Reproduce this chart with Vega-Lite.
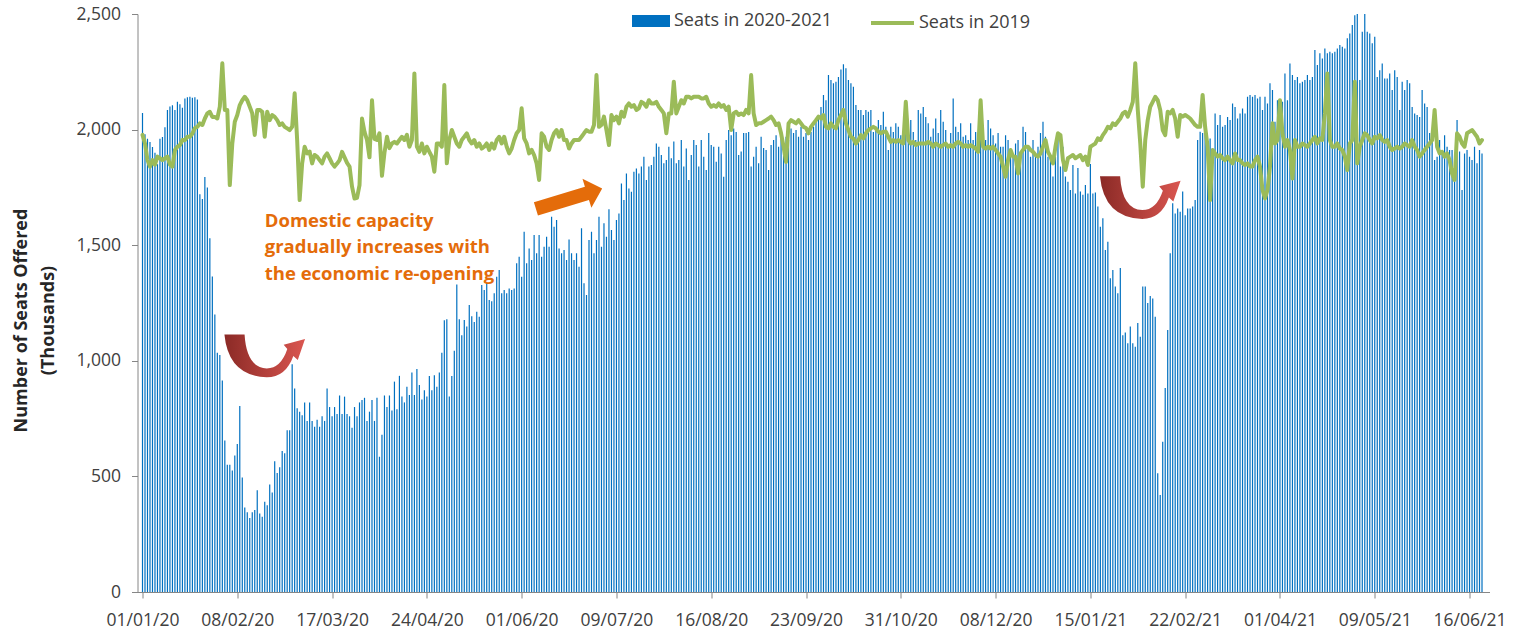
{
"$schema": "https://vega.github.io/schema/vega-lite/v6.json",
"width": 1352,
"height": 578,
"autosize": {"type": "none"},
"padding": {"left": 137.5, "top": 14, "right": 32.5, "bottom": 37},
"background": "white",
"config": {
  "view": {"stroke": null},
  "font": "Open Sans",
  "axis": {"grid": false, "domainColor": "#868686", "tickColor": "#868686", "tickSize": 6, "labelFont": "Open Sans", "labelFontSize": 17.5, "labelColor": "#404040"}
},
"datasets": {
"seats": [
{"date":"2020-01-01","seats":2072,"seats2019":1977},
{"date":"2020-01-02","seats":1980,"seats2019":1940},
{"date":"2020-01-03","seats":1960,"seats2019":1868},
{"date":"2020-01-04","seats":1946,"seats2019":1840},
{"date":"2020-01-05","seats":1925,"seats2019":1868},
{"date":"2020-01-06","seats":1900,"seats2019":1848},
{"date":"2020-01-07","seats":1850,"seats2019":1883},
{"date":"2020-01-08","seats":1960,"seats2019":1876},
{"date":"2020-01-09","seats":1968,"seats2019":1868},
{"date":"2020-01-10","seats":2010,"seats2019":1876},
{"date":"2020-01-11","seats":2085,"seats2019":1883},
{"date":"2020-01-12","seats":2100,"seats2019":1848},
{"date":"2020-01-13","seats":2105,"seats2019":1840},
{"date":"2020-01-14","seats":2085,"seats2019":1912},
{"date":"2020-01-15","seats":2120,"seats2019":1926},
{"date":"2020-01-16","seats":2110,"seats2019":1933},
{"date":"2020-01-17","seats":2095,"seats2019":1955},
{"date":"2020-01-18","seats":2135,"seats2019":1955},
{"date":"2020-01-19","seats":2140,"seats2019":1969},
{"date":"2020-01-20","seats":2142,"seats2019":1969},
{"date":"2020-01-21","seats":2138,"seats2019":1983},
{"date":"2020-01-22","seats":2140,"seats2019":2007},
{"date":"2020-01-23","seats":2130,"seats2019":2012},
{"date":"2020-01-24","seats":1720,"seats2019":2027},
{"date":"2020-01-25","seats":1700,"seats2019":2020},
{"date":"2020-01-26","seats":1795,"seats2019":2048},
{"date":"2020-01-27","seats":1750,"seats2019":2070},
{"date":"2020-01-28","seats":1530,"seats2019":2077},
{"date":"2020-01-29","seats":1365,"seats2019":2055},
{"date":"2020-01-30","seats":1200,"seats2019":2055},
{"date":"2020-01-31","seats":1035,"seats2019":2048},
{"date":"2020-02-01","seats":1025,"seats2019":2099},
{"date":"2020-02-02","seats":915,"seats2019":2287},
{"date":"2020-02-03","seats":655,"seats2019":2085},
{"date":"2020-02-04","seats":550,"seats2019":2085},
{"date":"2020-02-05","seats":550,"seats2019":1760},
{"date":"2020-02-06","seats":525,"seats2019":1940},
{"date":"2020-02-07","seats":590,"seats2019":2034},
{"date":"2020-02-08","seats":640,"seats2019":2063},
{"date":"2020-02-09","seats":805,"seats2019":2106},
{"date":"2020-02-10","seats":495,"seats2019":2127},
{"date":"2020-02-11","seats":365,"seats2019":2142},
{"date":"2020-02-12","seats":345,"seats2019":2127},
{"date":"2020-02-13","seats":320,"seats2019":2099},
{"date":"2020-02-14","seats":345,"seats2019":2070},
{"date":"2020-02-15","seats":355,"seats2019":1977},
{"date":"2020-02-16","seats":440,"seats2019":2085},
{"date":"2020-02-17","seats":340,"seats2019":2085},
{"date":"2020-02-18","seats":325,"seats2019":2077},
{"date":"2020-02-19","seats":390,"seats2019":1969},
{"date":"2020-02-20","seats":375,"seats2019":2077},
{"date":"2020-02-21","seats":465,"seats2019":2041},
{"date":"2020-02-22","seats":430,"seats2019":2063},
{"date":"2020-02-23","seats":565,"seats2019":2055},
{"date":"2020-02-24","seats":515,"seats2019":2041},
{"date":"2020-02-25","seats":540,"seats2019":2020},
{"date":"2020-02-26","seats":610,"seats2019":2027},
{"date":"2020-02-27","seats":600,"seats2019":2012},
{"date":"2020-02-28","seats":700,"seats2019":2005},
{"date":"2020-02-29","seats":700,"seats2019":1998},
{"date":"2020-03-01","seats":985,"seats2019":2012},
{"date":"2020-03-02","seats":880,"seats2019":2157},
{"date":"2020-03-03","seats":795,"seats2019":1955},
{"date":"2020-03-04","seats":780,"seats2019":1695},
{"date":"2020-03-05","seats":765,"seats2019":1854},
{"date":"2020-03-06","seats":820,"seats2019":1926},
{"date":"2020-03-07","seats":740,"seats2019":1897},
{"date":"2020-03-08","seats":820,"seats2019":1905},
{"date":"2020-03-09","seats":740,"seats2019":1854},
{"date":"2020-03-10","seats":715,"seats2019":1890},
{"date":"2020-03-11","seats":745,"seats2019":1883},
{"date":"2020-03-12","seats":715,"seats2019":1868},
{"date":"2020-03-13","seats":760,"seats2019":1854},
{"date":"2020-03-14","seats":740,"seats2019":1883},
{"date":"2020-03-15","seats":880,"seats2019":1897},
{"date":"2020-03-16","seats":800,"seats2019":1876},
{"date":"2020-03-17","seats":760,"seats2019":1854},
{"date":"2020-03-18","seats":800,"seats2019":1840},
{"date":"2020-03-19","seats":770,"seats2019":1853},
{"date":"2020-03-20","seats":850,"seats2019":1868},
{"date":"2020-03-21","seats":770,"seats2019":1904},
{"date":"2020-03-22","seats":845,"seats2019":1880},
{"date":"2020-03-23","seats":770,"seats2019":1856},
{"date":"2020-03-24","seats":760,"seats2019":1840},
{"date":"2020-03-25","seats":710,"seats2019":1753},
{"date":"2020-03-26","seats":800,"seats2019":1702},
{"date":"2020-03-27","seats":760,"seats2019":1705},
{"date":"2020-03-28","seats":820,"seats2019":1760},
{"date":"2020-03-29","seats":830,"seats2019":2048},
{"date":"2020-03-30","seats":840,"seats2019":1990},
{"date":"2020-03-31","seats":740,"seats2019":1955},
{"date":"2020-04-01","seats":780,"seats2019":1880},
{"date":"2020-04-02","seats":830,"seats2019":2127},
{"date":"2020-04-03","seats":740,"seats2019":1960},
{"date":"2020-04-04","seats":840,"seats2019":1955},
{"date":"2020-04-05","seats":585,"seats2019":1984},
{"date":"2020-04-06","seats":680,"seats2019":1800},
{"date":"2020-04-07","seats":850,"seats2019":1900},
{"date":"2020-04-08","seats":800,"seats2019":1969},
{"date":"2020-04-09","seats":850,"seats2019":1920},
{"date":"2020-04-10","seats":785,"seats2019":1940},
{"date":"2020-04-11","seats":910,"seats2019":1947},
{"date":"2020-04-12","seats":790,"seats2019":1940},
{"date":"2020-04-13","seats":935,"seats2019":1955},
{"date":"2020-04-14","seats":846,"seats2019":1969},
{"date":"2020-04-15","seats":820,"seats2019":1955},
{"date":"2020-04-16","seats":888,"seats2019":1977},
{"date":"2020-04-17","seats":852,"seats2019":1926},
{"date":"2020-04-18","seats":949,"seats2019":1955},
{"date":"2020-04-19","seats":852,"seats2019":2243},
{"date":"2020-04-20","seats":964,"seats2019":1926},
{"date":"2020-04-21","seats":895,"seats2019":1904},
{"date":"2020-04-22","seats":833,"seats2019":1940},
{"date":"2020-04-23","seats":873,"seats2019":1897},
{"date":"2020-04-24","seats":846,"seats2019":1926},
{"date":"2020-04-25","seats":934,"seats2019":1904},
{"date":"2020-04-26","seats":873,"seats2019":1883},
{"date":"2020-04-27","seats":937,"seats2019":1818},
{"date":"2020-04-28","seats":888,"seats2019":1940},
{"date":"2020-04-29","seats":949,"seats2019":1940},
{"date":"2020-04-30","seats":1035,"seats2019":1926},
{"date":"2020-05-01","seats":1175,"seats2019":2193},
{"date":"2020-05-02","seats":1180,"seats2019":1854},
{"date":"2020-05-03","seats":846,"seats2019":1955},
{"date":"2020-05-04","seats":934,"seats2019":1998},
{"date":"2020-05-05","seats":1044,"seats2019":1969},
{"date":"2020-05-06","seats":1330,"seats2019":1940},
{"date":"2020-05-07","seats":1180,"seats2019":1926},
{"date":"2020-05-08","seats":1111,"seats2019":1955},
{"date":"2020-05-09","seats":1176,"seats2019":1969},
{"date":"2020-05-10","seats":1148,"seats2019":1984},
{"date":"2020-05-11","seats":1241,"seats2019":1955},
{"date":"2020-05-12","seats":1193,"seats2019":1940},
{"date":"2020-05-13","seats":1168,"seats2019":1955},
{"date":"2020-05-14","seats":1212,"seats2019":1926},
{"date":"2020-05-15","seats":1190,"seats2019":1940},
{"date":"2020-05-16","seats":1328,"seats2019":1918},
{"date":"2020-05-17","seats":1306,"seats2019":1926},
{"date":"2020-05-18","seats":1335,"seats2019":1940},
{"date":"2020-05-19","seats":1263,"seats2019":1912},
{"date":"2020-05-20","seats":1258,"seats2019":1940},
{"date":"2020-05-21","seats":1292,"seats2019":1918},
{"date":"2020-05-22","seats":1364,"seats2019":1955},
{"date":"2020-05-23","seats":1393,"seats2019":1969},
{"date":"2020-05-24","seats":1292,"seats2019":1940},
{"date":"2020-05-25","seats":1306,"seats2019":1969},
{"date":"2020-05-26","seats":1292,"seats2019":1926},
{"date":"2020-05-27","seats":1313,"seats2019":1897},
{"date":"2020-05-28","seats":1306,"seats2019":1918},
{"date":"2020-05-29","seats":1313,"seats2019":1955},
{"date":"2020-05-30","seats":1422,"seats2019":1984},
{"date":"2020-05-31","seats":1450,"seats2019":1998},
{"date":"2020-06-01","seats":1364,"seats2019":2092},
{"date":"2020-06-02","seats":1558,"seats2019":1962},
{"date":"2020-06-03","seats":1422,"seats2019":1940},
{"date":"2020-06-04","seats":1486,"seats2019":1897},
{"date":"2020-06-05","seats":1436,"seats2019":1912},
{"date":"2020-06-06","seats":1544,"seats2019":1890},
{"date":"2020-06-07","seats":1465,"seats2019":1854},
{"date":"2020-06-08","seats":1544,"seats2019":1782},
{"date":"2020-06-09","seats":1450,"seats2019":1984},
{"date":"2020-06-10","seats":1493,"seats2019":1969},
{"date":"2020-06-11","seats":1537,"seats2019":1926},
{"date":"2020-06-12","seats":1493,"seats2019":1912},
{"date":"2020-06-13","seats":1623,"seats2019":1955},
{"date":"2020-06-14","seats":1580,"seats2019":1984},
{"date":"2020-06-15","seats":1609,"seats2019":1998},
{"date":"2020-06-16","seats":1486,"seats2019":1969},
{"date":"2020-06-17","seats":1465,"seats2019":1998},
{"date":"2020-06-18","seats":1479,"seats2019":1955},
{"date":"2020-06-19","seats":1436,"seats2019":1955},
{"date":"2020-06-20","seats":1525,"seats2019":1918},
{"date":"2020-06-21","seats":1465,"seats2019":1940},
{"date":"2020-06-22","seats":1436,"seats2019":1955},
{"date":"2020-06-23","seats":1465,"seats2019":1955},
{"date":"2020-06-24","seats":1407,"seats2019":1955},
{"date":"2020-06-25","seats":1573,"seats2019":1969},
{"date":"2020-06-26","seats":1335,"seats2019":1984},
{"date":"2020-06-27","seats":1285,"seats2019":1998},
{"date":"2020-06-28","seats":1522,"seats2019":1991},
{"date":"2020-06-29","seats":1558,"seats2019":1991},
{"date":"2020-06-30","seats":1465,"seats2019":2020},
{"date":"2020-07-01","seats":1522,"seats2019":2236},
{"date":"2020-07-02","seats":1623,"seats2019":2012},
{"date":"2020-07-03","seats":1493,"seats2019":2020},
{"date":"2020-07-04","seats":1595,"seats2019":2056},
{"date":"2020-07-05","seats":1537,"seats2019":1998},
{"date":"2020-07-06","seats":1655,"seats2019":1933},
{"date":"2020-07-07","seats":1566,"seats2019":2063},
{"date":"2020-07-08","seats":1522,"seats2019":2041},
{"date":"2020-07-09","seats":1609,"seats2019":2056},
{"date":"2020-07-10","seats":1637,"seats2019":2027},
{"date":"2020-07-11","seats":1767,"seats2019":2077},
{"date":"2020-07-12","seats":1695,"seats2019":2056},
{"date":"2020-07-13","seats":1810,"seats2019":2099},
{"date":"2020-07-14","seats":1745,"seats2019":2113},
{"date":"2020-07-15","seats":1731,"seats2019":2099},
{"date":"2020-07-16","seats":1818,"seats2019":2106},
{"date":"2020-07-17","seats":1832,"seats2019":2085},
{"date":"2020-07-18","seats":1810,"seats2019":2092},
{"date":"2020-07-19","seats":1840,"seats2019":2120},
{"date":"2020-07-20","seats":1883,"seats2019":2113},
{"date":"2020-07-21","seats":1782,"seats2019":2099},
{"date":"2020-07-22","seats":1840,"seats2019":2127},
{"date":"2020-07-23","seats":1847,"seats2019":2113},
{"date":"2020-07-24","seats":1883,"seats2019":2113},
{"date":"2020-07-25","seats":1940,"seats2019":2120},
{"date":"2020-07-26","seats":1926,"seats2019":2099},
{"date":"2020-07-27","seats":1890,"seats2019":2085},
{"date":"2020-07-28","seats":1854,"seats2019":2070},
{"date":"2020-07-29","seats":1868,"seats2019":1984},
{"date":"2020-07-30","seats":1926,"seats2019":2070},
{"date":"2020-07-31","seats":1876,"seats2019":2070},
{"date":"2020-08-01","seats":1948,"seats2019":2207},
{"date":"2020-08-02","seats":1854,"seats2019":2070},
{"date":"2020-08-03","seats":1868,"seats2019":2099},
{"date":"2020-08-04","seats":1955,"seats2019":2127},
{"date":"2020-08-05","seats":1840,"seats2019":2113},
{"date":"2020-08-06","seats":1918,"seats2019":2142},
{"date":"2020-08-07","seats":1782,"seats2019":2142},
{"date":"2020-08-08","seats":1890,"seats2019":2135},
{"date":"2020-08-09","seats":1955,"seats2019":2142},
{"date":"2020-08-10","seats":1933,"seats2019":2142},
{"date":"2020-08-11","seats":1840,"seats2019":2142},
{"date":"2020-08-12","seats":1955,"seats2019":2135},
{"date":"2020-08-13","seats":1883,"seats2019":2135},
{"date":"2020-08-14","seats":1825,"seats2019":2142},
{"date":"2020-08-15","seats":1985,"seats2019":2113},
{"date":"2020-08-16","seats":1933,"seats2019":2099},
{"date":"2020-08-17","seats":1926,"seats2019":2106},
{"date":"2020-08-18","seats":1861,"seats2019":2099},
{"date":"2020-08-19","seats":1926,"seats2019":2113},
{"date":"2020-08-20","seats":1897,"seats2019":2099},
{"date":"2020-08-21","seats":1796,"seats2019":2106},
{"date":"2020-08-22","seats":1955,"seats2019":2085},
{"date":"2020-08-23","seats":1998,"seats2019":2099},
{"date":"2020-08-24","seats":1976,"seats2019":1998},
{"date":"2020-08-25","seats":2005,"seats2019":2070},
{"date":"2020-08-26","seats":1990,"seats2019":2077},
{"date":"2020-08-27","seats":1890,"seats2019":2063},
{"date":"2020-08-28","seats":1905,"seats2019":2070},
{"date":"2020-08-29","seats":1985,"seats2019":2063},
{"date":"2020-08-30","seats":1985,"seats2019":2085},
{"date":"2020-08-31","seats":1990,"seats2019":2070},
{"date":"2020-09-01","seats":1840,"seats2019":2236},
{"date":"2020-09-02","seats":1883,"seats2019":2070},
{"date":"2020-09-03","seats":1926,"seats2019":2020},
{"date":"2020-09-04","seats":1854,"seats2019":2027},
{"date":"2020-09-05","seats":1969,"seats2019":2027},
{"date":"2020-09-06","seats":1920,"seats2019":2034},
{"date":"2020-09-07","seats":1912,"seats2019":2041},
{"date":"2020-09-08","seats":1825,"seats2019":2048},
{"date":"2020-09-09","seats":1933,"seats2019":2056},
{"date":"2020-09-10","seats":1955,"seats2019":2041},
{"date":"2020-09-11","seats":1976,"seats2019":2020},
{"date":"2020-09-12","seats":1926,"seats2019":2027},
{"date":"2020-09-13","seats":1985,"seats2019":1984},
{"date":"2020-09-14","seats":1940,"seats2019":1926},
{"date":"2020-09-15","seats":1969,"seats2019":1860},
{"date":"2020-09-16","seats":1955,"seats2019":2027},
{"date":"2020-09-17","seats":2005,"seats2019":2041},
{"date":"2020-09-18","seats":1985,"seats2019":2034},
{"date":"2020-09-19","seats":1998,"seats2019":2027},
{"date":"2020-09-20","seats":1969,"seats2019":2041},
{"date":"2020-09-21","seats":2012,"seats2019":2027},
{"date":"2020-09-22","seats":1969,"seats2019":2012},
{"date":"2020-09-23","seats":1985,"seats2019":2007},
{"date":"2020-09-24","seats":1955,"seats2019":1984},
{"date":"2020-09-25","seats":1990,"seats2019":2012},
{"date":"2020-09-26","seats":2012,"seats2019":2027},
{"date":"2020-09-27","seats":2048,"seats2019":2041},
{"date":"2020-09-28","seats":2055,"seats2019":2056},
{"date":"2020-09-29","seats":2098,"seats2019":2048},
{"date":"2020-09-30","seats":2150,"seats2019":2063},
{"date":"2020-10-01","seats":2127,"seats2019":2012},
{"date":"2020-10-02","seats":2236,"seats2019":2005},
{"date":"2020-10-03","seats":2214,"seats2019":2027},
{"date":"2020-10-04","seats":2200,"seats2019":2012},
{"date":"2020-10-05","seats":2207,"seats2019":2005},
{"date":"2020-10-06","seats":2228,"seats2019":2041},
{"date":"2020-10-07","seats":2260,"seats2019":2063},
{"date":"2020-10-08","seats":2283,"seats2019":2085},
{"date":"2020-10-09","seats":2265,"seats2019":2027},
{"date":"2020-10-10","seats":2214,"seats2019":1998},
{"date":"2020-10-11","seats":2200,"seats2019":1969},
{"date":"2020-10-12","seats":2185,"seats2019":1961},
{"date":"2020-10-13","seats":2106,"seats2019":1940},
{"date":"2020-10-14","seats":2085,"seats2019":1955},
{"date":"2020-10-15","seats":2085,"seats2019":1976},
{"date":"2020-10-16","seats":2063,"seats2019":1962},
{"date":"2020-10-17","seats":2085,"seats2019":1984},
{"date":"2020-10-18","seats":2077,"seats2019":1998},
{"date":"2020-10-19","seats":2085,"seats2019":2005},
{"date":"2020-10-20","seats":1990,"seats2019":2012},
{"date":"2020-10-21","seats":2012,"seats2019":2005},
{"date":"2020-10-22","seats":2041,"seats2019":1991},
{"date":"2020-10-23","seats":2020,"seats2019":1984},
{"date":"2020-10-24","seats":2077,"seats2019":1991},
{"date":"2020-10-25","seats":2012,"seats2019":1991},
{"date":"2020-10-26","seats":1912,"seats2019":1969},
{"date":"2020-10-27","seats":2012,"seats2019":1947},
{"date":"2020-10-28","seats":1990,"seats2019":1955},
{"date":"2020-10-29","seats":2027,"seats2019":1947},
{"date":"2020-10-30","seats":2012,"seats2019":1955},
{"date":"2020-10-31","seats":1976,"seats2019":1947},
{"date":"2020-11-01","seats":1990,"seats2019":1940},
{"date":"2020-11-02","seats":1985,"seats2019":2120},
{"date":"2020-11-03","seats":1962,"seats2019":1955},
{"date":"2020-11-04","seats":2041,"seats2019":1940},
{"date":"2020-11-05","seats":1990,"seats2019":1947},
{"date":"2020-11-06","seats":1955,"seats2019":1933},
{"date":"2020-11-07","seats":2085,"seats2019":1940},
{"date":"2020-11-08","seats":2070,"seats2019":1940},
{"date":"2020-11-09","seats":2098,"seats2019":1940},
{"date":"2020-11-10","seats":2055,"seats2019":1940},
{"date":"2020-11-11","seats":2027,"seats2019":1947},
{"date":"2020-11-12","seats":1969,"seats2019":1940},
{"date":"2020-11-13","seats":2005,"seats2019":1926},
{"date":"2020-11-14","seats":2048,"seats2019":1940},
{"date":"2020-11-15","seats":1985,"seats2019":1933},
{"date":"2020-11-16","seats":2085,"seats2019":1926},
{"date":"2020-11-17","seats":2034,"seats2019":1933},
{"date":"2020-11-18","seats":1998,"seats2019":1940},
{"date":"2020-11-19","seats":1926,"seats2019":1926},
{"date":"2020-11-20","seats":1985,"seats2019":1933},
{"date":"2020-11-21","seats":2135,"seats2019":1926},
{"date":"2020-11-22","seats":2012,"seats2019":1940},
{"date":"2020-11-23","seats":1990,"seats2019":1947},
{"date":"2020-11-24","seats":2027,"seats2019":1940},
{"date":"2020-11-25","seats":1969,"seats2019":1926},
{"date":"2020-11-26","seats":1976,"seats2019":1933},
{"date":"2020-11-27","seats":1955,"seats2019":1926},
{"date":"2020-11-28","seats":2027,"seats2019":1933},
{"date":"2020-11-29","seats":1955,"seats2019":1926},
{"date":"2020-11-30","seats":1990,"seats2019":1918},
{"date":"2020-12-01","seats":1962,"seats2019":1904},
{"date":"2020-12-02","seats":2085,"seats2019":2127},
{"date":"2020-12-03","seats":1976,"seats2019":1926},
{"date":"2020-12-04","seats":1955,"seats2019":1918},
{"date":"2020-12-05","seats":2041,"seats2019":1926},
{"date":"2020-12-06","seats":2005,"seats2019":1918},
{"date":"2020-12-07","seats":1976,"seats2019":1926},
{"date":"2020-12-08","seats":1940,"seats2019":1912},
{"date":"2020-12-09","seats":1985,"seats2019":1897},
{"date":"2020-12-10","seats":1926,"seats2019":1883},
{"date":"2020-12-11","seats":1926,"seats2019":1840},
{"date":"2020-12-12","seats":1976,"seats2019":1796},
{"date":"2020-12-13","seats":1955,"seats2019":1868},
{"date":"2020-12-14","seats":1905,"seats2019":1912},
{"date":"2020-12-15","seats":1883,"seats2019":1883},
{"date":"2020-12-16","seats":1940,"seats2019":1883},
{"date":"2020-12-17","seats":1955,"seats2019":1810},
{"date":"2020-12-18","seats":1876,"seats2019":1897},
{"date":"2020-12-19","seats":2012,"seats2019":1912},
{"date":"2020-12-20","seats":1990,"seats2019":1926},
{"date":"2020-12-21","seats":1926,"seats2019":1926},
{"date":"2020-12-22","seats":1883,"seats2019":1912},
{"date":"2020-12-23","seats":1955,"seats2019":1904},
{"date":"2020-12-24","seats":1883,"seats2019":1890},
{"date":"2020-12-25","seats":1926,"seats2019":1883},
{"date":"2020-12-26","seats":1985,"seats2019":1897},
{"date":"2020-12-27","seats":2034,"seats2019":1926},
{"date":"2020-12-28","seats":1969,"seats2019":1955},
{"date":"2020-12-29","seats":1883,"seats2019":1904},
{"date":"2020-12-30","seats":1883,"seats2019":1883},
{"date":"2020-12-31","seats":1797,"seats2019":1854},
{"date":"2021-01-01","seats":1883,"seats2019":1926},
{"date":"2021-01-02","seats":1985,"seats2019":1984},
{"date":"2021-01-03","seats":1840,"seats2019":1976},
{"date":"2021-01-04","seats":1926,"seats2019":1868},
{"date":"2021-01-05","seats":1797,"seats2019":1825},
{"date":"2021-01-06","seats":1774,"seats2019":1876},
{"date":"2021-01-07","seats":1739,"seats2019":1883},
{"date":"2021-01-08","seats":1847,"seats2019":1890},
{"date":"2021-01-09","seats":1724,"seats2019":1876},
{"date":"2021-01-10","seats":1834,"seats2019":1883},
{"date":"2021-01-11","seats":1732,"seats2019":1890},
{"date":"2021-01-12","seats":1718,"seats2019":1868},
{"date":"2021-01-13","seats":1760,"seats2019":1883},
{"date":"2021-01-14","seats":1724,"seats2019":1847},
{"date":"2021-01-15","seats":1851,"seats2019":1926},
{"date":"2021-01-16","seats":1724,"seats2019":1933},
{"date":"2021-01-17","seats":1728,"seats2019":1940},
{"date":"2021-01-18","seats":1667,"seats2019":1962},
{"date":"2021-01-19","seats":1580,"seats2019":1955},
{"date":"2021-01-20","seats":1617,"seats2019":1976},
{"date":"2021-01-21","seats":1479,"seats2019":1991},
{"date":"2021-01-22","seats":1515,"seats2019":2012},
{"date":"2021-01-23","seats":1357,"seats2019":2005},
{"date":"2021-01-24","seats":1393,"seats2019":2027},
{"date":"2021-01-25","seats":1321,"seats2019":2020},
{"date":"2021-01-26","seats":1292,"seats2019":2034},
{"date":"2021-01-27","seats":1401,"seats2019":2048},
{"date":"2021-01-28","seats":1111,"seats2019":2070},
{"date":"2021-01-29","seats":1122,"seats2019":2077},
{"date":"2021-01-30","seats":1076,"seats2019":2056},
{"date":"2021-01-31","seats":1148,"seats2019":2085},
{"date":"2021-02-01","seats":1076,"seats2019":2120},
{"date":"2021-02-02","seats":1061,"seats2019":2287},
{"date":"2021-02-03","seats":1163,"seats2019":2085},
{"date":"2021-02-04","seats":1104,"seats2019":1940},
{"date":"2021-02-05","seats":1321,"seats2019":1753},
{"date":"2021-02-06","seats":1321,"seats2019":1955},
{"date":"2021-02-07","seats":1250,"seats2019":2041},
{"date":"2021-02-08","seats":1280,"seats2019":2099},
{"date":"2021-02-09","seats":1270,"seats2019":2120},
{"date":"2021-02-10","seats":1191,"seats2019":2142},
{"date":"2021-02-11","seats":514,"seats2019":2127},
{"date":"2021-02-12","seats":420,"seats2019":2085},
{"date":"2021-02-13","seats":650,"seats2019":1998},
{"date":"2021-02-14","seats":882,"seats2019":1976},
{"date":"2021-02-15","seats":1133,"seats2019":2077},
{"date":"2021-02-16","seats":1465,"seats2019":2070},
{"date":"2021-02-17","seats":1681,"seats2019":2085},
{"date":"2021-02-18","seats":1637,"seats2019":2048},
{"date":"2021-02-19","seats":1659,"seats2019":1969},
{"date":"2021-02-20","seats":1645,"seats2019":2063},
{"date":"2021-02-21","seats":1732,"seats2019":2056},
{"date":"2021-02-22","seats":1630,"seats2019":2063},
{"date":"2021-02-23","seats":1659,"seats2019":2056},
{"date":"2021-02-24","seats":1659,"seats2019":2048},
{"date":"2021-02-25","seats":1667,"seats2019":2034},
{"date":"2021-02-26","seats":1695,"seats2019":2020},
{"date":"2021-02-27","seats":1955,"seats2019":2012},
{"date":"2021-02-28","seats":1991,"seats2019":2012},
{"date":"2021-03-01","seats":1985,"seats2019":2150},
{"date":"2021-03-02","seats":1985,"seats2019":2012},
{"date":"2021-03-03","seats":1940,"seats2019":1926},
{"date":"2021-03-04","seats":1962,"seats2019":1695},
{"date":"2021-03-05","seats":1883,"seats2019":1912},
{"date":"2021-03-06","seats":2070,"seats2019":1897},
{"date":"2021-03-07","seats":2020,"seats2019":1883},
{"date":"2021-03-08","seats":2063,"seats2019":1890},
{"date":"2021-03-09","seats":2012,"seats2019":1876},
{"date":"2021-03-10","seats":2020,"seats2019":1868},
{"date":"2021-03-11","seats":2055,"seats2019":1883},
{"date":"2021-03-12","seats":2041,"seats2019":1868},
{"date":"2021-03-13","seats":2113,"seats2019":1854},
{"date":"2021-03-14","seats":2098,"seats2019":1897},
{"date":"2021-03-15","seats":2048,"seats2019":1868},
{"date":"2021-03-16","seats":2070,"seats2019":1868},
{"date":"2021-03-17","seats":2091,"seats2019":1854},
{"date":"2021-03-18","seats":2070,"seats2019":1847},
{"date":"2021-03-19","seats":2142,"seats2019":1854},
{"date":"2021-03-20","seats":2150,"seats2019":1840},
{"date":"2021-03-21","seats":2142,"seats2019":1840},
{"date":"2021-03-22","seats":2150,"seats2019":1868},
{"date":"2021-03-23","seats":2135,"seats2019":1883},
{"date":"2021-03-24","seats":2142,"seats2019":1840},
{"date":"2021-03-25","seats":2085,"seats2019":1739},
{"date":"2021-03-26","seats":2142,"seats2019":1702},
{"date":"2021-03-27","seats":2113,"seats2019":1739},
{"date":"2021-03-28","seats":2200,"seats2019":1840},
{"date":"2021-03-29","seats":2171,"seats2019":2027},
{"date":"2021-03-30","seats":2034,"seats2019":1940},
{"date":"2021-03-31","seats":2127,"seats2019":1955},
{"date":"2021-04-01","seats":2041,"seats2019":2127},
{"date":"2021-04-02","seats":2120,"seats2019":1984},
{"date":"2021-04-03","seats":2243,"seats2019":1926},
{"date":"2021-04-04","seats":2127,"seats2019":1955},
{"date":"2021-04-05","seats":2286,"seats2019":1912},
{"date":"2021-04-06","seats":2236,"seats2019":1788},
{"date":"2021-04-07","seats":2214,"seats2019":1955},
{"date":"2021-04-08","seats":2228,"seats2019":1926},
{"date":"2021-04-09","seats":2200,"seats2019":1926},
{"date":"2021-04-10","seats":2207,"seats2019":1940},
{"date":"2021-04-11","seats":2214,"seats2019":1933},
{"date":"2021-04-12","seats":2236,"seats2019":1926},
{"date":"2021-04-13","seats":2214,"seats2019":1940},
{"date":"2021-04-14","seats":2228,"seats2019":1955},
{"date":"2021-04-15","seats":2344,"seats2019":1969},
{"date":"2021-04-16","seats":2279,"seats2019":1940},
{"date":"2021-04-17","seats":2330,"seats2019":1962},
{"date":"2021-04-18","seats":2308,"seats2019":1955},
{"date":"2021-04-19","seats":2351,"seats2019":2070},
{"date":"2021-04-20","seats":2330,"seats2019":2243},
{"date":"2021-04-21","seats":2337,"seats2019":1955},
{"date":"2021-04-22","seats":2330,"seats2019":1926},
{"date":"2021-04-23","seats":2337,"seats2019":1926},
{"date":"2021-04-24","seats":2351,"seats2019":1940},
{"date":"2021-04-25","seats":2366,"seats2019":1918},
{"date":"2021-04-26","seats":2358,"seats2019":1912},
{"date":"2021-04-27","seats":2351,"seats2019":1883},
{"date":"2021-04-28","seats":2395,"seats2019":1825},
{"date":"2021-04-29","seats":2416,"seats2019":1940},
{"date":"2021-04-30","seats":2452,"seats2019":1955},
{"date":"2021-05-01","seats":2495,"seats2019":2207},
{"date":"2021-05-02","seats":2500,"seats2019":1854},
{"date":"2021-05-03","seats":2214,"seats2019":1926},
{"date":"2021-05-04","seats":2423,"seats2019":1955},
{"date":"2021-05-05","seats":2500,"seats2019":1984},
{"date":"2021-05-06","seats":2423,"seats2019":1976},
{"date":"2021-05-07","seats":2416,"seats2019":1955},
{"date":"2021-05-08","seats":2373,"seats2019":1940},
{"date":"2021-05-09","seats":2402,"seats2019":1969},
{"date":"2021-05-10","seats":2228,"seats2019":1962},
{"date":"2021-05-11","seats":2257,"seats2019":1976},
{"date":"2021-05-12","seats":2286,"seats2019":1955},
{"date":"2021-05-13","seats":2221,"seats2019":1947},
{"date":"2021-05-14","seats":2221,"seats2019":1955},
{"date":"2021-05-15","seats":2243,"seats2019":1926},
{"date":"2021-05-16","seats":2171,"seats2019":1912},
{"date":"2021-05-17","seats":2257,"seats2019":1918},
{"date":"2021-05-18","seats":2228,"seats2019":1926},
{"date":"2021-05-19","seats":2085,"seats2019":1918},
{"date":"2021-05-20","seats":2207,"seats2019":1926},
{"date":"2021-05-21","seats":2171,"seats2019":1940},
{"date":"2021-05-22","seats":2214,"seats2019":1933},
{"date":"2021-05-23","seats":2200,"seats2019":1926},
{"date":"2021-05-24","seats":2098,"seats2019":1955},
{"date":"2021-05-25","seats":2070,"seats2019":1926},
{"date":"2021-05-26","seats":2063,"seats2019":1912},
{"date":"2021-05-27","seats":2055,"seats2019":1883},
{"date":"2021-05-28","seats":2171,"seats2019":1897},
{"date":"2021-05-29","seats":2113,"seats2019":1912},
{"date":"2021-05-30","seats":2098,"seats2019":1926},
{"date":"2021-05-31","seats":1985,"seats2019":1940},
{"date":"2021-06-01","seats":1955,"seats2019":1955},
{"date":"2021-06-02","seats":1868,"seats2019":2085},
{"date":"2021-06-03","seats":1883,"seats2019":1926},
{"date":"2021-06-04","seats":1955,"seats2019":1897},
{"date":"2021-06-05","seats":1897,"seats2019":1904},
{"date":"2021-06-06","seats":1976,"seats2019":1883},
{"date":"2021-06-07","seats":1926,"seats2019":1897},
{"date":"2021-06-08","seats":1912,"seats2019":1868},
{"date":"2021-06-09","seats":1912,"seats2019":1810},
{"date":"2021-06-10","seats":1797,"seats2019":1782},
{"date":"2021-06-11","seats":2041,"seats2019":1984},
{"date":"2021-06-12","seats":1905,"seats2019":1969},
{"date":"2021-06-13","seats":1739,"seats2019":1940},
{"date":"2021-06-14","seats":1897,"seats2019":1926},
{"date":"2021-06-15","seats":1912,"seats2019":1984},
{"date":"2021-06-16","seats":1883,"seats2019":1991},
{"date":"2021-06-17","seats":1868,"seats2019":1998},
{"date":"2021-06-18","seats":1926,"seats2019":1984},
{"date":"2021-06-19","seats":1854,"seats2019":1969},
{"date":"2021-06-20","seats":1912,"seats2019":1940},
{"date":"2021-06-21","seats":1897,"seats2019":1955}
],
"curved": [
{"date":"2020-02-19","value":1021},
{"date":"2021-02-04","value":1706}
],
"arrow": [
{"date":"2020-06-20","value":1701}
],
"note": [
{"date":"2020-02-19","value":1580,"label":"Domestic capacity\ngradually increases with\nthe economic re-opening"}
]
},
"layer": [
{
  "data": {"name": "seats"},
  "mark": {"type": "bar", "width": 1.2},
  "encoding": {
    "x": {"field": "date", "type": "temporal", "title": null,
      "scale": {"type": "utc", "domain": [{"year":2020,"month":1,"date":1,"utc":true},{"year":2021,"month":6,"date":22,"utc":true}]},
      "axis": {"format": "%d/%m/%y", "labelPadding": 13, "labelFlush": false, "labelOverlap": false,
        "values": [
          {"year":2020,"month":1,"date":1,"utc":true},
          {"year":2020,"month":2,"date":8,"utc":true},
          {"year":2020,"month":3,"date":17,"utc":true},
          {"year":2020,"month":4,"date":24,"utc":true},
          {"year":2020,"month":6,"date":1,"utc":true},
          {"year":2020,"month":7,"date":9,"utc":true},
          {"year":2020,"month":8,"date":16,"utc":true},
          {"year":2020,"month":9,"date":23,"utc":true},
          {"year":2020,"month":10,"date":31,"utc":true},
          {"year":2020,"month":12,"date":8,"utc":true},
          {"year":2021,"month":1,"date":15,"utc":true},
          {"year":2021,"month":2,"date":22,"utc":true},
          {"year":2021,"month":4,"date":1,"utc":true},
          {"year":2021,"month":5,"date":9,"utc":true},
          {"year":2021,"month":6,"date":16,"utc":true}
        ]}},
    "y": {"field": "seats", "type": "quantitative",
      "scale": {"domain": [0, 2500], "nice": false},
      "axis": {"values": [0, 500, 1000, 1500, 2000, 2500], "format": ",.0f", "labelPadding": 11,
        "title": ["Number of Seats Offered", "(Thousands)"],
        "titleFont": "Open Sans", "titleFontSize": 18, "titleFontWeight": "bold", "titleColor": "#262626",
        "titleAngle": 270, "titleAlign": "center", "titleBaseline": "top", "titleLineHeight": 27,
        "titleX": -125, "titleY": 306}},
    "fill": {"datum": "Seats in 2020-2021", "type": "nominal", "scale": {"range": ["#0070C0"]},
      "legend": {"title": null, "orient": "none", "legendX": 494.5, "legendY": -12,
        "symbolType": "M-1,-0.32H1V0.32H-1Z", "symbolSize": 1444, "symbolStrokeWidth": 0,
        "labelFont": "Open Sans", "labelFontSize": 18, "labelColor": "#404040", "labelOffset": 4}}
  }
},
{
  "data": {"name": "seats"},
  "mark": {"type": "line", "strokeWidth": 4, "strokeJoin": "round", "strokeCap": "round"},
  "encoding": {
    "x": {"field": "date", "type": "temporal", "title": null},
    "y": {"field": "seats2019", "type": "quantitative"},
    "stroke": {"datum": "Seats in 2019", "type": "nominal", "scale": {"range": ["#9BBB59"]},
      "legend": {"title": null, "orient": "none", "legendX": 731.5, "legendY": -14.5,
        "symbolType": "stroke", "symbolSize": 1849, "symbolStrokeWidth": 4,
        "labelFont": "Open Sans", "labelFontSize": 18, "labelColor": "#404040", "labelOffset": 3}}
  }
},
{
  "data": {"name": "curved"},
  "mark": {"type": "point", "shape": "M-1,-0.53L-0.5,-0.53Q-0.45,0.29,0.05,0.31Q0.4,0.31,0.56,-0.17L0.47,-0.28L1,-0.42L0.82,0.1L0.71,0Q0.52,0.53,0.05,0.53Q-0.9,0.5,-1,-0.53Z",
    "size": 6500, "filled": true, "opacity": 1, "strokeWidth": 0,
    "fill": {"gradient": "linear", "x1": 0, "y1": 0, "x2": 1, "y2": 0, "stops": [{"offset": 0, "color": "#8B2A26"}, {"offset": 1, "color": "#DA5650"}]}},
  "encoding": {
    "x": {"field": "date", "type": "temporal", "title": null},
    "y": {"field": "value", "type": "quantitative"}
  }
},
{
  "data": {"name": "arrow"},
  "mark": {"type": "point", "shape": "M-1,-0.2L0.54,-0.2L0.54,-0.44L1,0L0.54,0.44L0.54,0.2L-1,0.2Z",
    "size": 4800, "angle": 343, "filled": true, "opacity": 1, "strokeWidth": 0, "fill": "#E46C0A"},
  "encoding": {
    "x": {"field": "date", "type": "temporal", "title": null},
    "y": {"field": "value", "type": "quantitative"}
  }
},
{
  "data": {"name": "note"},
  "mark": {"type": "text", "align": "left", "baseline": "alphabetic", "lineBreak": "\n", "lineHeight": 26.7,
    "font": "Open Sans", "fontSize": 18.5, "fontWeight": "bold", "color": "#E46C0A"},
  "encoding": {
    "x": {"field": "date", "type": "temporal", "title": null},
    "y": {"field": "value", "type": "quantitative"},
    "text": {"field": "label", "type": "nominal"}
  }
}
]
}
